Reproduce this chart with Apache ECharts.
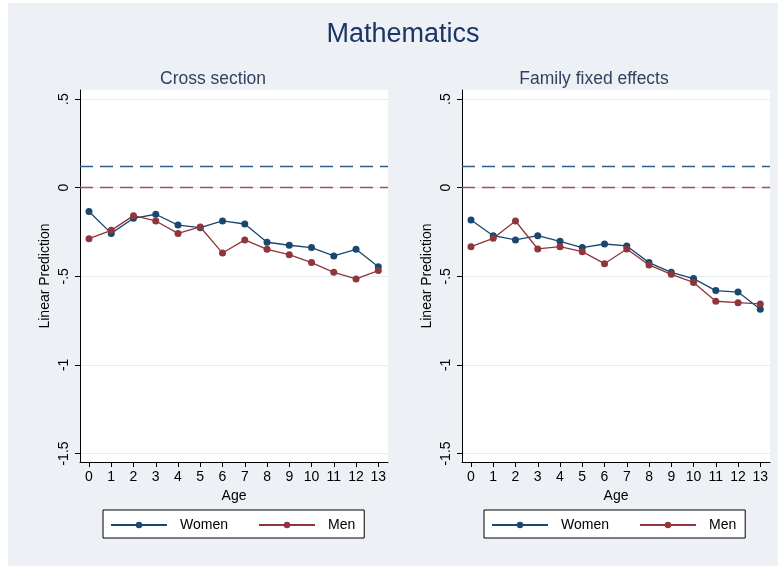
<!DOCTYPE html>
<html>
<head>
<meta charset="utf-8">
<script src="https://cdn.jsdelivr.net/npm/echarts@6/dist/echarts.min.js"></script>
<style>
  html, body { margin: 0; padding: 0; background: #ffffff; }
  #chart { width: 778px; height: 566px; }
</style>
</head>
<body>
<div id="chart"></div>
<script>
// Age in years
const ages = [0, 1, 2, 3, 4, 5, 6, 7, 8, 9, 10, 11, 12, 13];

// Linear predictions, cross-section model
const crossWomen = [-0.135, -0.258, -0.173, -0.150, -0.211, -0.226, -0.188, -0.205, -0.308, -0.325, -0.338, -0.385, -0.348, -0.446];
const crossMen   = [-0.288, -0.241, -0.158, -0.188, -0.258, -0.222, -0.369, -0.295, -0.348, -0.378, -0.423, -0.478, -0.515, -0.468];

// Linear predictions, family fixed effects model
const fixedWomen = [-0.182, -0.271, -0.295, -0.271, -0.303, -0.338, -0.318, -0.329, -0.423, -0.478, -0.513, -0.581, -0.589, -0.686];
const fixedMen   = [-0.333, -0.286, -0.188, -0.346, -0.333, -0.361, -0.429, -0.346, -0.436, -0.489, -0.535, -0.641, -0.649, -0.656];

// Reference levels (dashed lines)
const womenRef = 0.12;
const menRef = 0;

// Axis ticks
const yTicks = [0.5, 0, -0.5, -1, -1.5];
const xTicks = ages;

const mainTitle = 'Mathematics';
const panelTitles = ['Cross section', 'Family fixed effects'];
const seriesNames = ['Women', 'Men'];

const NAVY = '#1a476f';
const MAROON = '#90353b';
const FONT = '"Liberation Sans", Arial, Helvetica, sans-serif';

const panels = [
  { left: 80, women: crossWomen, men: crossMen, titleX: 213, legendX: 103 },
  { left: 462, women: fixedWomen, men: fixedMen, titleX: 594, legendX: 484 }
];

function fmtTick(v) {
  // Stata-style labels: .5, 0, -.5, -1, -1.5
  return String(v).replace('0.', '.');
}

const grids = [], xAxes = [], yAxes = [], series = [], titles = [], legends = [];

titles.push({
  text: mainTitle, left: 403, top: 21, textAlign: 'center', padding: 0,
  textStyle: { fontFamily: FONT, fontSize: 27, fontWeight: 'normal', color: '#1c3566' }
});

panels.forEach((p, i) => {
  grids.push({
    left: p.left, top: 90, width: 308, height: 372,
    show: true, backgroundColor: '#ffffff', borderWidth: 0
  });
  titles.push({
    text: panelTitles[i], left: p.titleX, top: 70, textAlign: 'center', padding: 0,
    textStyle: { fontFamily: FONT, fontSize: 17.5, fontWeight: 'normal', color: '#34405e' }
  });
  xAxes.push({
    type: 'value', gridIndex: i, min: -0.404, max: 13.436,
    name: 'Age', nameLocation: 'middle', nameGap: 23,
    nameTextStyle: { fontFamily: FONT, fontSize: 14, color: '#000' },
    axisLine: { show: true, onZero: false, lineStyle: { color: '#000', width: 1 } },
    axisTick: { show: true, length: 5, customValues: xTicks, lineStyle: { color: '#000' } },
    axisLabel: { customValues: xTicks, margin: 8, fontFamily: FONT, fontSize: 14, color: '#000' },
    splitLine: { show: false }
  });
  yAxes.push({
    type: 'value', gridIndex: i, min: -1.548, max: 0.551,
    name: 'Linear Prediction', nameLocation: 'middle', nameGap: 28,
    nameTextStyle: { fontFamily: FONT, fontSize: 14, color: '#000' },
    axisLine: { show: true, onZero: false, lineStyle: { color: '#000', width: 1 } },
    axisTick: { show: true, length: 5, customValues: yTicks, lineStyle: { color: '#000' } },
    axisLabel: {
      customValues: yTicks, rotate: 90, margin: 9, formatter: fmtTick,
      fontFamily: FONT, fontSize: 14, color: '#000'
    },
    splitLine: { show: true, lineStyle: { color: '#e4ecf3', width: 1 } }
  });
  series.push({
    type: 'line', name: seriesNames[0], xAxisIndex: i, yAxisIndex: i,
    data: ages.map((a, k) => [a, p.women[k]]),
    symbol: 'circle', symbolSize: 7,
    lineStyle: { color: NAVY, width: 1.3 },
    itemStyle: { color: NAVY },
    markLine: {
      silent: true, symbol: 'none', label: { show: false },
      lineStyle: { color: '#2d5f8c', width: 1.3, type: [13, 7] },
      data: [{ yAxis: womenRef }]
    }
  });
  series.push({
    type: 'line', name: seriesNames[1], xAxisIndex: i, yAxisIndex: i,
    data: ages.map((a, k) => [a, p.men[k]]),
    symbol: 'circle', symbolSize: 7,
    lineStyle: { color: MAROON, width: 1.3 },
    itemStyle: { color: MAROON },
    markLine: {
      silent: true, symbol: 'none', label: { show: false },
      lineStyle: { color: '#b04a52', width: 1.3, type: [13, 7] },
      data: [{ yAxis: menRef }]
    }
  });
  legends.push({
    data: seriesNames, left: p.legendX, top: 510, orient: 'horizontal',
    padding: [8, 9, 6, 7], itemWidth: 56, itemHeight: 8, itemGap: 30,
    borderColor: '#000', borderWidth: 1, borderRadius: 0, backgroundColor: '#ffffff',
    selectedMode: false,
    textStyle: { fontFamily: FONT, fontSize: 14, color: '#000', padding: [0, 0, 0, 8] }
  });
});

const chart = echarts.init(document.getElementById('chart'), null, { renderer: 'canvas' });
chart.setOption({
  animation: false,
  backgroundColor: 'transparent',
  graphic: [{
    type: 'rect', z: -10, silent: true,
    shape: { x: 8, y: 3, width: 770, height: 563 },
    style: { fill: '#edf1f6' }
  }],
  title: titles,
  legend: legends,
  grid: grids,
  xAxis: xAxes,
  yAxis: yAxes,
  series: series
});
</script>
</body>
</html>
